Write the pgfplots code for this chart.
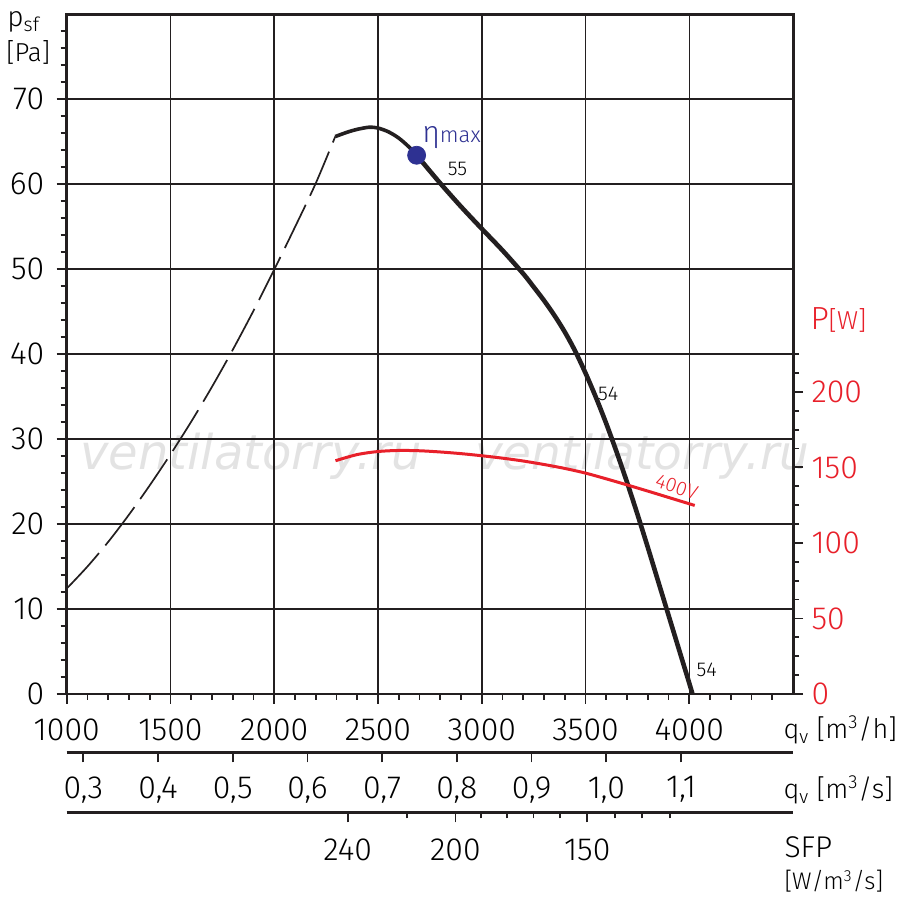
\documentclass[border=0pt]{standalone}
\usepackage{fontspec}
\setmainfont{Fira Sans Light}
\newfontfamily\wmfont{DejaVu Sans}
\usepackage{pgfplots}
\pgfplotsset{compat=1.18}
\definecolor{pred}{HTML}{E8202A}
\definecolor{eblue}{HTML}{2E3192}
\definecolor{cblk}{HTML}{231F20}
\pgfplotsset{
  /pgf/number format/assume math mode=true,
  /pgf/number format/1000 sep={},
  base/.style={
    at={(0,0)}, anchor=south west, scale only axis,
    width=363.15pt, height=339.85pt,
    xmin=1000, xmax=4500,
    tick align=outside,
    major tick length=5pt, minor tick length=3pt,
    every tick/.style={line width=0.9pt, cblk},
    tick label style={font=\fontsize{16}{18}\selectfont, inner sep=0pt},
    clip=false,
  },
}
\begin{document}
\begin{tikzpicture}
\useasboundingbox (-33.35pt,-107pt) rectangle (416.65pt,346.95pt);
% watermark
\node[anchor=base west, inner sep=0, text=gray!22] at (6.65pt,112pt) {\wmfont\itshape\fontsize{24}{24}\selectfont ventilatorry.ru};
\node[anchor=base west, inner sep=0, text=gray!22] at (204pt,112pt) {\wmfont\itshape\fontsize{23.5}{24}\selectfont ventilatorry.ru};
% main axis
\begin{axis}[base,
  ymin=0, ymax=80,
  xtick={1000,1500,...,4000},
  minor xtick={1100,1200,...,4400},
  ytick={0,10,...,70},
  minor ytick={2,4,...,78},
  xtick pos=left, ytick pos=left,
  grid=major, major grid style={line width=0.8pt, cblk},
  axis line style={line width=1.4pt, cblk},
  xticklabel style={anchor=north, yshift=-7pt},
  yticklabel style={anchor=east, xshift=-6pt},
]
\addplot[cblk, line width=0.85pt, dash pattern=on 24pt off 5pt, smooth] coordinates {
(1000,12.4) (1100,15.0) (1200,17.9) (1300,21.1) (1400,24.55) (1500,28.2) (1600,32.05) (1700,36.15) (1800,40.5) (1900,45.1) (2000,49.95) (2100,54.95) (2200,60.1) (2294,65.6)};
\addplot[cblk, line width=1.8pt, smooth] coordinates {
(2294,65.6) (2350,66.1) (2400,66.45) (2458,66.7) (2500,66.6) (2550,66.16) (2600,65.42) (2650,64.36) (2686,63.4)};
\addplot[cblk, line width=2.3pt, smooth] coordinates {
(2686,63.4) (2700,63.0) (2800,60.1) (2900,57.35) (3000,54.75) (3100,52.2) (3200,49.45) (3250,47.9) (3300,46.3) (3350,44.55) (3400,42.6) (3450,40.35) (3500,37.75) (3550,34.9) (3600,31.8) (3650,28.45) (3700,24.9) (3750,21.15) (3800,17.25) (3850,13.25) (3900,9.25) (3950,5.25) (4000,1.25) (4015,0.0)};
\addplot[only marks, mark=*, mark size=4.5pt, eblue] coordinates {(2686,63.4)};
\node[text=eblue, inner sep=0] at (axis cs:2854,65.5) {{\fontsize{15}{15}\selectfont η}{\fontsize{11}{11}\selectfont max}};
\node[inner sep=0] at (axis cs:2883,61.8) {\fontsize{10}{10}\selectfont 55};
\node[inner sep=0] at (axis cs:3609,35.35) {\fontsize{10}{10}\selectfont 54};
\node[inner sep=0] at (axis cs:4084,2.82) {\fontsize{10}{10}\selectfont 54};
\node[inner sep=0, text=pred, rotate=-19] at (axis cs:3939,24.35) {\fontsize{10}{10}\selectfont 400V};
\end{axis}
% right axis P[W]
\begin{axis}[base,
  ymin=0, ymax=450,
  axis x line=none, axis y line*=right,
  ytick={0,50,...,200},
  minor ytick={12.5,25,...,225},
  y axis line style={line width=1.4pt, cblk},
  yticklabel style={anchor=west, xshift=4pt, text=pred},
]
\addplot[pred, line width=1.5pt, smooth] coordinates {
(2295,154.4) (2400,158.5) (2500,160.5) (2600,161.2) (2700,161.0) (2800,160.2) (2900,159.1) (3000,157.7) (3100,156.1) (3200,154.2) (3300,151.9) (3400,149.3) (3500,146.2) (3600,142.4) (3700,138.4) (3800,134.3) (3900,130.1) (4026,124.8)};
\end{axis}
% q_v m3/s axis
\begin{axis}[base, at={(0,-29.15pt)}, height=10pt,
  xmin=0.277778, xmax=1.25, ymin=0, ymax=1,
  axis y line=none, axis x line*=bottom,
  x axis line style={line width=1.4pt, cblk},
  xtick={0.3,0.4,0.5,0.6,0.7,0.8,0.9,1.0,1.1},
  xticklabel style={anchor=north, yshift=-7pt,
    /pgf/number format/.cd, fixed, fixed zerofill, precision=1, use comma},
]
\end{axis}
% SFP axis
\begin{axis}[base, at={(0,-59.15pt)}, height=10pt,
  ymin=0, ymax=1,
  axis y line=none, axis x line*=bottom,
  x axis line style={line width=1.4pt, cblk},
  xtick={2354,2873,3508}, xticklabels={240,200,150},
  minor xtick={2640,2997,3123,3249,3378,3640,3772,3905},
  xticklabel style={anchor=north, yshift=-8pt},
]
\end{axis}
% axis titles
\node[anchor=base west, inner sep=0] at (-29.85pt,333.5pt) {\fontsize{14}{16}\selectfont p\textsubscript{sf}};
\node[anchor=west, inner sep=0] at (-30.35pt,320.75pt) {\fontsize{13}{15}\selectfont [Pa]};
\node[anchor=west, inner sep=0, text=pred] at (371.65pt,187pt) {\fontsize{16}{18}\selectfont P\fontsize{13}{15}\selectfont[W]};
\node[anchor=west, inner sep=0] at (358.15pt,-18pt) {\fontsize{13.5}{16}\selectfont q\textsubscript{v} [m\textsuperscript{3}/h]};
\node[anchor=west, inner sep=0] at (358.15pt,-48pt) {\fontsize{13.5}{16}\selectfont q\textsubscript{v} [m\textsuperscript{3}/s]};
\node[anchor=west, inner sep=0] at (358.65pt,-76.75pt) {\fontsize{15}{17}\selectfont SFP};
\node[anchor=west, inner sep=0] at (358.65pt,-93.75pt) {\fontsize{12}{14}\selectfont [W/m\textsuperscript{3}/s]};
\end{tikzpicture}
\end{document}
